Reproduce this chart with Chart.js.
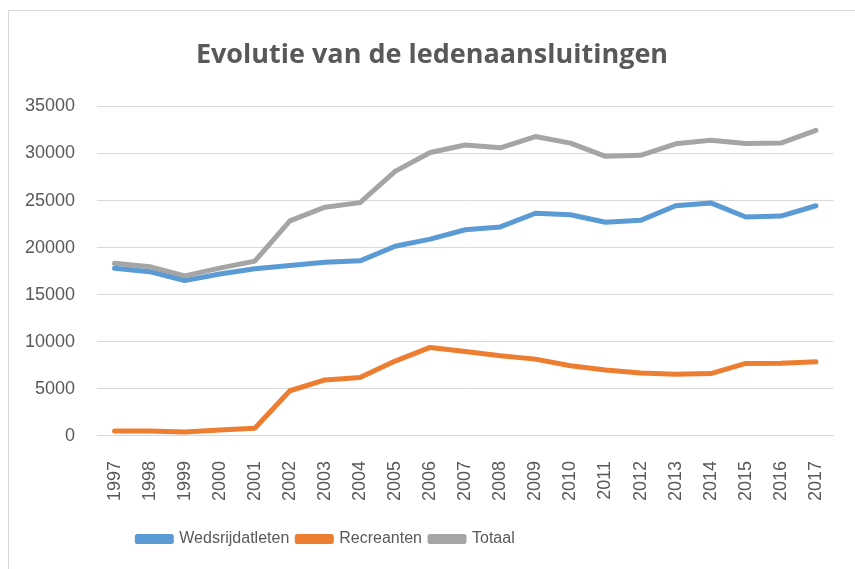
<!DOCTYPE html>
<html>
<head>
<meta charset="utf-8">
<script src="https://cdn.jsdelivr.net/npm/chart.js@4"></script>
<style>
    html, body { margin: 0; padding: 0; background: #fff; }
    #wrap { position: relative; width: 855px; height: 569px; overflow: hidden; }
    #frame { position: absolute; left: 8px; top: 10px; width: 900px; height: 600px; border: 1px solid #d9d9d9; box-sizing: border-box; }
    canvas { position: absolute; left: 0; top: 0; }
</style>
</head>
<body>
<div id="wrap">
    <div id="frame"></div>
    <canvas id="ledenChart" width="855" height="569"></canvas>
</div>
<script>
const years = ['1997', '1998', '1999', '2000', '2001', '2002', '2003', '2004', '2005', '2006', '2007',
    '2008', '2009', '2010', '2011', '2012', '2013', '2014', '2015', '2016', '2017'];

const wedstrijdatleten = [17800, 17450, 16500, 17200, 17750, 18100, 18450, 18600, 20150, 20900, 21900,
    22200, 23650, 23500, 22700, 22900, 24450, 24750, 23250, 23350, 24450];

const recreanten = [530, 530, 430, 640, 820, 4800, 5950, 6200, 7950, 9400, 8970,
    8520, 8160, 7450, 7000, 6680, 6560, 6620, 7700, 7730, 7870];

const totaal = [18330, 17980, 17000, 17820, 18570, 22850, 24300, 24780, 28100, 30100, 30900,
    30600, 31800, 31100, 29700, 29800, 31030, 31400, 31050, 31100, 32450];

const yTicks = [0, 5000, 10000, 15000, 20000, 25000, 30000, 35000];

const textColor = '#595959';
const bodyFont = "'Liberation Sans', sans-serif";

function lineSet(label, data, color) {
    return {
        label,
        data,
        borderColor: color,
        backgroundColor: color,
        borderWidth: 5,
        pointRadius: 0,
        tension: 0,
        borderCapStyle: 'round',
        borderJoinStyle: 'round'
    };
}

// Excel placed the title and legend off the plot centre; nudge them after layout
const shiftBoxes = {
    id: 'shiftBoxes',
    afterLayout(chart) {
        const title = chart.titleBlock;
        if (title) { title.left += 14; title.right += 14; }
        const legend = chart.legend;
        if (legend) { legend.left -= 92; legend.right -= 92; }
    }
};

const ctx = document.getElementById('ledenChart').getContext('2d');
new Chart(ctx, {
    type: 'line',
    data: {
        labels: years,
        datasets: [
            lineSet('Wedsrijdatleten', wedstrijdatleten, '#5b9bd5'),
            lineSet('Recreanten', recreanten, '#ed7d31'),
            lineSet('Totaal', totaal, '#a5a5a5')
        ]
    },
    plugins: [shiftBoxes],
    options: {
        responsive: false,
        animation: false,
        layout: { padding: { left: 0, right: 19, top: 0, bottom: 12 } },
        plugins: {
            title: {
                display: true,
                text: 'Evolutie van de ledenaansluitingen',
                color: textColor,
                font: { family: "'Open Sans', sans-serif", size: 27, weight: 'bold' },
                padding: { top: 39, bottom: 35 }
            },
            legend: {
                position: 'bottom',
                labels: {
                    color: textColor,
                    font: { family: bodyFont, size: 16 },
                    boxWidth: 34,
                    boxHeight: 5,
                    padding: 8
                }
            },
            tooltip: { enabled: false }
        },
        scales: {
            x: {
                offset: true,
                afterFit: scale => { scale.height += 5; },
                grid: { display: false },
                border: { color: '#d9d9d9', width: 1 },
                ticks: {
                    color: textColor,
                    font: { family: bodyFont, size: 18 },
                    minRotation: 90,
                    maxRotation: 90,
                    autoSkip: false,
                    padding: 17
                }
            },
            y: {
                min: 0,
                max: 35000,
                afterFit: scale => { scale.width = 97; },
                afterBuildTicks: scale => { scale.ticks = yTicks.map(v => ({ value: v })); },
                grid: { color: '#d9d9d9', lineWidth: 1, drawTicks: false },
                border: { display: false },
                ticks: {
                    color: textColor,
                    font: { family: bodyFont, size: 18 },
                    padding: 22,
                    callback: v => String(v)
                }
            }
        }
    }
});
</script>
</body>
</html>
